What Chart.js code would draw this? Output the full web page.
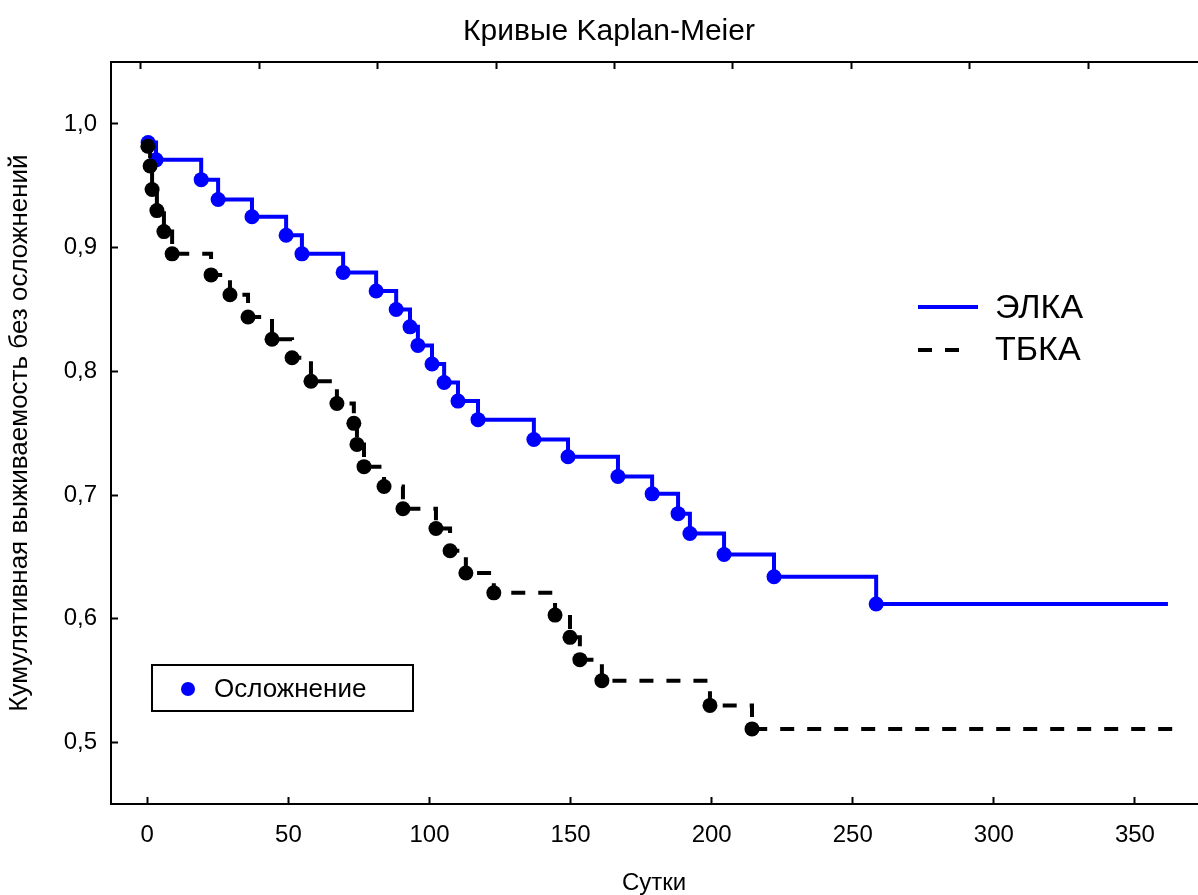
<!DOCTYPE html>
<html>
<head>
<meta charset="utf-8">
<script src="https://cdn.jsdelivr.net/npm/chart.js@4.4.1/dist/chart.umd.min.js"></script>
<style>
  html, body { margin: 0; padding: 0; background: #fff; }
</style>
</head>
<body>
<canvas id="kmChart" width="1198" height="895"></canvas>
<script>
// ЭЛКА - points where the curve drops (last one is end of follow-up)
const elkaDays = [0.3, 3.1, 19.1, 25.1, 37.1, 49.2, 54.8, 69.4, 81.1, 88.2, 93.1, 95.9, 100.9,
  105.2, 110.1, 117.2, 137.0, 149.1, 166.8, 178.9, 188.1, 192.3, 204.4, 222.1, 258.3, 361.7];
const elkaSurv = [0.985, 0.971, 0.955, 0.939, 0.925, 0.910, 0.895, 0.880, 0.865, 0.850, 0.836, 0.821, 0.806,
  0.791, 0.776, 0.761, 0.745, 0.731, 0.715, 0.701, 0.685, 0.669, 0.652, 0.634, 0.612, 0.612];

// ТБКА
const tbkaDays = [0.2, 1.0, 1.7, 3.4, 5.9, 8.8, 22.6, 29.3, 35.7, 44.2, 51.3, 58.0, 67.2, 73.2,
  74.3, 76.8, 83.9, 90.6, 102.3, 107.3, 112.9, 122.8, 144.5, 149.8, 153.3, 161.1, 199.4, 214.3, 363.5];
const tbkaSurv = [0.982, 0.966, 0.947, 0.930, 0.913, 0.895, 0.878, 0.862, 0.844, 0.826, 0.811, 0.792, 0.774, 0.758,
  0.741, 0.723, 0.707, 0.689, 0.673, 0.655, 0.637, 0.621, 0.603, 0.585, 0.567, 0.550, 0.530, 0.511, 0.511];

const xTicks = [0, 50, 100, 150, 200, 250, 300, 350];
const yTicks = [0.5, 0.6, 0.7, 0.8, 0.9, 1.0];
const topTicks = [0, 1, 2, 3, 4, 5, 6, 7, 8];

Chart.defaults.font.family = '"Liberation Sans", Arial, sans-serif';
Chart.defaults.color = '#000';

function pairs(xs, ys) {
  return xs.map((x, i) => ({ x: x, y: ys[i] }));
}

const tickGrid = {
  drawOnChartArea: false,
  drawTicks: true,
  tickLength: -7,
  tickWidth: 2,
  tickColor: '#000'
};
const axisBorder = { display: true, color: '#000', width: 2 };

// title + the two legends
const extras = {
  id: 'extras',
  afterDraw(chart) {
    const c = chart.ctx;
    c.save();
    c.fillStyle = '#000';
    c.textBaseline = 'middle';
    c.textAlign = 'center';
    c.font = '30px "Liberation Sans", Arial, sans-serif';
    c.fillText('Кривые Kaplan-Meier', 609, 32);

    // line legend
    c.textAlign = 'left';
    c.font = '34px "Liberation Sans", Arial, sans-serif';
    c.strokeStyle = '#0000ff';
    c.lineWidth = 4;
    c.beginPath(); c.moveTo(918, 307); c.lineTo(978, 307); c.stroke();
    c.fillText('ЭЛКА', 995, 309);
    c.strokeStyle = '#000';
    c.setLineDash([14, 13]);
    c.beginPath(); c.moveTo(918, 350); c.lineTo(962, 350); c.stroke();
    c.setLineDash([]);
    c.fillText('ТБКА', 995, 351);

    // marker legend
    c.lineWidth = 2;
    c.strokeRect(152, 665, 261, 46);
    c.fillStyle = '#0000ff';
    c.beginPath(); c.arc(188, 689, 7, 0, Math.PI * 2); c.fill();
    c.fillStyle = '#000';
    c.font = '26px "Liberation Sans", Arial, sans-serif';
    c.fillText('Осложнение', 214, 690);
    c.restore();
  }
};

new Chart(document.getElementById('kmChart').getContext('2d'), {
  type: 'line',
  data: {
    datasets: [{
      label: 'ЭЛКА',
      data: pairs(elkaDays, elkaSurv),
      stepped: true,
      borderColor: '#0000ff',
      borderWidth: 4,
      pointRadius: ctx => ctx.dataIndex === elkaDays.length - 1 ? 0 : 7.5,
      pointBackgroundColor: '#0000ff',
      pointBorderWidth: 0,
      fill: false,
      order: 1
    }, {
      label: 'ТБКА',
      data: pairs(tbkaDays, tbkaSurv),
      stepped: true,
      borderColor: '#000',
      borderWidth: 4,
      borderDash: [14, 13],
      pointRadius: ctx => ctx.dataIndex === tbkaDays.length - 1 ? 0 : 7.5,
      pointBackgroundColor: '#000',
      pointBorderWidth: 0,
      fill: false,
      order: 0
    }]
  },
  options: {
    responsive: false,
    animation: false,
    layout: { autoPadding: false, padding: { right: 1 } },
    plugins: {
      legend: { display: false },
      tooltip: { enabled: false },
      title: { display: false }
    },
    scales: {
      x: {
        type: 'linear',
        position: 'bottom',
        min: -12.86,
        max: 372,
        afterBuildTicks: s => { s.ticks = xTicks.map(v => ({ value: v })); },
        afterFit: s => { s.height = 91; },
        ticks: { font: { size: 24 }, padding: 24, maxRotation: 0, autoSkip: false },
        grid: tickGrid,
        border: axisBorder,
        title: { display: true, text: 'Сутки', font: { size: 24 }, padding: { bottom: -3 } }
      },
      x2: {
        type: 'linear',
        position: 'top',
        min: -0.253,
        max: 8.92,
        afterBuildTicks: s => { s.ticks = topTicks.map(v => ({ value: v })); },
        afterFit: s => { s.height = 62; },
        ticks: { display: false },
        grid: tickGrid,
        border: axisBorder
      },
      y: {
        type: 'linear',
        position: 'left',
        min: 0.4503,
        max: 1.0501,
        afterBuildTicks: s => { s.ticks = yTicks.map(v => ({ value: v })); },
        afterFit: s => { s.width = 111; },
        ticks: {
          font: { size: 24 },
          padding: 21,
          callback: v => v.toFixed(1).replace('.', ',')
        },
        grid: tickGrid,
        border: axisBorder,
        title: {
          display: true,
          text: 'Кумулятивная выживаемость без осложнений',
          font: { size: 26 },
          padding: { top: 4 }
        }
      }
    }
  },
  plugins: [extras]
});
</script>
</body>
</html>
